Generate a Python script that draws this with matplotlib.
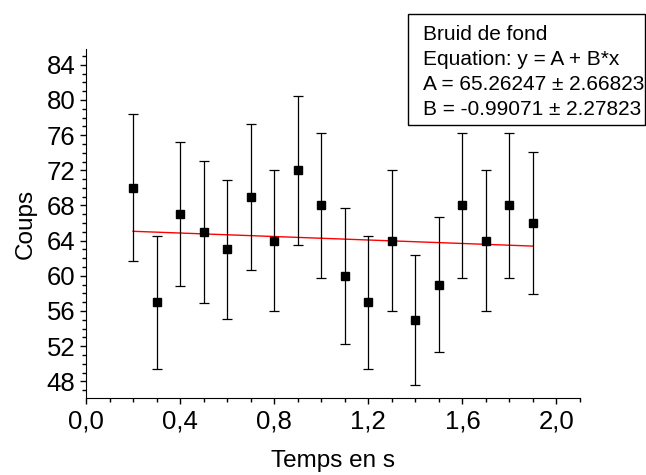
import matplotlib.pyplot as plt
from matplotlib.ticker import MultipleLocator, FuncFormatter
from matplotlib.patches import Rectangle

plt.rcParams['font.family'] = ['Liberation Sans', 'DejaVu Sans']

# mesures : temps (s), coups, incertitudes
temps = [0.2, 0.3, 0.4, 0.5, 0.6, 0.7, 0.8, 0.9, 1.0,
         1.1, 1.2, 1.3, 1.4, 1.5, 1.6, 1.7, 1.8, 1.9]
coups = [70, 57, 67, 65, 63, 69, 64, 72, 68,
         60, 57, 64, 55, 59, 68, 64, 68, 66]
erreurs = [8.37, 7.55, 8.19, 8.06, 7.94, 8.31, 8.0, 8.49, 8.25,
           7.75, 7.55, 8.0, 7.42, 7.68, 8.25, 8.0, 8.25, 8.12]

# droite d'ajustement (extrémités)
fit_x = [0.2, 1.9]
fit_y = [65.064, 63.380]

legende = ["Bruid de fond",
           "Equation: y = A + B*x",
           "A = 65.26247 \u00b1 2.66823",
           "B = -0.99071 \u00b1 2.27823"]

W, H = 646, 475
fig = plt.figure(figsize=(W / 100, H / 100), dpi=100)
ax = fig.add_axes([86 / W, (H - 398) / H, (580 - 86) / W, (398 - 49) / H])

ax.errorbar(temps, coups, yerr=erreurs, fmt='s', color='black', ms=6,
            elinewidth=0.9, capsize=3.5, capthick=0.9, zorder=3)
ax.plot(fit_x, fit_y, color='red', lw=1, zorder=2)

ax.set_xlim(0, 2.1)
ax.set_ylim(46.1, 85.8)
ax.spines['top'].set_visible(False)
ax.spines['right'].set_visible(False)

ax.xaxis.set_major_locator(MultipleLocator(0.4))
ax.xaxis.set_minor_locator(MultipleLocator(0.1))
ax.yaxis.set_major_locator(MultipleLocator(4))
ax.yaxis.set_minor_locator(MultipleLocator(1))
ax.xaxis.set_major_formatter(FuncFormatter(lambda v, p: f"{v:.1f}".replace('.', ',')))
ax.tick_params(which='major', length=4.5, width=1, labelsize=18.5)
ax.tick_params(which='minor', length=2.6, width=1)
ax.tick_params(axis='y', pad=3)
ax.tick_params(axis='x', pad=4)

ax.set_xlabel("Temps en s", fontsize=17.5, labelpad=12)
ax.set_ylabel("Coups", fontsize=17.5, labelpad=7)

# boîte de légende
fig.patches.append(Rectangle((408 / W, (H - 125) / H), (645 - 408) / W, 111 / H,
                             transform=fig.transFigure, fill=False,
                             edgecolor='black', lw=1))
for i, ligne in enumerate(legende):
    fig.text(423 / W, (H - (40 + 25 * i)) / H, ligne, fontsize=15,
             va='baseline', ha='left')

fig.savefig("out.png", dpi=100)
